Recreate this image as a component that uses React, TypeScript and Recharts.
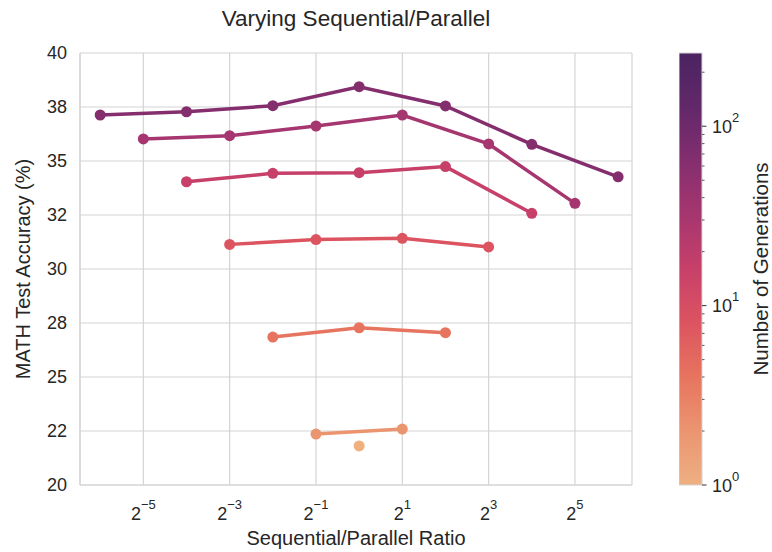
import {
  LineChart,
  Line,
  XAxis,
  YAxis,
  CartesianGrid,
  ComposedChart,
  ReferenceArea,
} from "recharts";

// MATH accuracy vs. sequential/parallel ratio, one curve per generation budget.
// Colour of each curve follows the log-scaled colorbar on the right.

const FONT = '"Liberation Sans", Arial, Helvetica, sans-serif';
const GRID = "#d4d4d4";
const TEXT = "#262626";

// ratio = sequential / parallel, acc = MATH test accuracy (%)
const ratioGen64 = [1 / 64, 1 / 16, 1 / 4, 1, 4, 16, 64];
const accGen64 = [37.13, 37.28, 37.56, 38.44, 37.55, 35.77, 34.27];

const ratioGen32 = [1 / 32, 1 / 8, 1 / 2, 2, 8, 32];
const accGen32 = [36.02, 36.17, 36.62, 37.13, 35.79, 33.04];

const ratioGen16 = [1 / 16, 1 / 4, 1, 4, 16];
const accGen16 = [34.04, 34.43, 34.46, 34.74, 32.58];

const ratioGen8 = [1 / 8, 1 / 2, 2, 8];
const accGen8 = [31.14, 31.36, 31.42, 31.02];

const ratioGen4 = [1 / 4, 1, 4];
const accGen4 = [26.85, 27.28, 27.05];

const ratioGen2 = [1 / 2, 2];
const accGen2 = [22.36, 22.59];

const ratioGen1 = [1];
const accGen1 = [21.81];

const generations = [64, 32, 16, 8, 4, 2, 1];
const seriesColors = ["#842e6e", "#a6366f", "#c7406a", "#dc5460", "#e7745f", "#eb9570", "#efb07e"];
const ratioLists = [ratioGen64, ratioGen32, ratioGen16, ratioGen8, ratioGen4, ratioGen2, ratioGen1];
const accLists = [accGen64, accGen32, accGen16, accGen8, accGen4, accGen2, accGen1];

const xTicks = [1 / 32, 1 / 8, 1 / 2, 2, 8, 32];
const xDomain = [0.0113, 80];
const yTicks = [20, 22.5, 25, 27.5, 30, 32.5, 35, 37.5, 40];
const yTickLabels = ["20", "22", "25", "28", "30", "32", "35", "38", "40"];

const cbarTicks = [1, 2, 3, 4, 5, 6, 7, 8, 9, 10, 20, 30, 40, 50, 60, 70, 80, 90, 100, 200];
// flare colormap, bottom (1) to top (256)
const cbarStops = ["#edb081", "#eb9570", "#e7745f", "#dc5460", "#c7406a", "#a6366f", "#842e6e", "#62286a", "#4a2360"];

const series = generations.map((g, i) => ({
  gen: g,
  color: seriesColors[i],
  data: ratioLists[i].map((r, j) => ({ x: r, y: accLists[i][j] })),
}));

const cbarData = [{ x: 0 }, { x: 1 }];

function XTick({ x, y, payload }: any) {
  const exp = Math.round(Math.log2(payload.value));
  return (
    <text x={x} y={y + 35} textAnchor="middle" fontFamily={FONT} fontSize={18} fill={TEXT}>
      2
      <tspan dy={-11} fontSize={13}>
        {exp < 0 ? `\u2212${-exp}` : `${exp}`}
      </tspan>
    </text>
  );
}

function CbarTick({ x, y, payload }: any) {
  const v = payload.value;
  const exp = Math.log10(v);
  const major = Math.abs(exp - Math.round(exp)) < 1e-9;
  return (
    <g>
      <line x1={x} x2={x + (major ? 4.5 : 2.5)} y1={y} y2={y} stroke="#333" strokeWidth={major ? 1 : 0.8} />
      {major && (
        <text x={x + 10} y={y + 6.5} fontFamily={FONT} fontSize={18} fill={TEXT}>
          10
          <tspan dy={-11} fontSize={13}>
            {Math.round(exp)}
          </tspan>
        </text>
      )}
    </g>
  );
}

export default function App() {
  return (
    <div
      style={{
        position: "absolute",
        left: 0,
        top: 0,
        width: 772,
        height: 552,
        background: "#fff",
        fontFamily: FONT,
      }}
    >
      <LineChart width={772} height={552} margin={{ top: 53, right: 140, bottom: 0, left: 0 }}>
        <CartesianGrid stroke={GRID} strokeWidth={1.2} />
        <XAxis
          type="number"
          dataKey="x"
          scale="log"
          domain={xDomain}
          allowDataOverflow
          ticks={xTicks}
          interval={0}
          height={67}
          tickSize={0}
          tickMargin={0}
          tickLine={false}
          axisLine={{ stroke: GRID, strokeWidth: 1.2 }}
          tick={<XTick />}
        />
        <YAxis
          type="number"
          domain={[20, 40]}
          allowDataOverflow
          ticks={yTicks}
          interval={0}
          width={80}
          tickSize={0}
          tickMargin={13}
          tickLine={false}
          axisLine={{ stroke: GRID, strokeWidth: 1.2 }}
          tick={{ fontSize: 18, fill: TEXT, fontFamily: FONT }}
          tickFormatter={(v: number, i: number) => yTickLabels[i]}
        />
        <YAxis
          yAxisId="frame"
          orientation="right"
          width={0}
          tick={false}
          tickLine={false}
          axisLine={{ stroke: GRID, strokeWidth: 1.2 }}
        />
        {series.map((s) => (
          <Line
            key={s.gen}
            data={s.data}
            dataKey="y"
            type="linear"
            stroke={s.color}
            strokeWidth={3.5}
            dot={{ r: 5.5, fill: s.color, stroke: s.color, strokeWidth: 0 }}
            activeDot={false}
            isAnimationActive={false}
          />
        ))}
        <text x={356} y={26} textAnchor="middle" fontFamily={FONT} fontSize={22.5} fill={TEXT}>
          Varying Sequential/Parallel
        </text>
        <text x={356} y={545} textAnchor="middle" fontFamily={FONT} fontSize={20} fill={TEXT}>
          Sequential/Parallel Ratio
        </text>
        <text
          x={23}
          y={269}
          transform="rotate(-90, 23, 269)"
          textAnchor="middle"
          dominantBaseline="central"
          fontFamily={FONT}
          fontSize={20}
          fill={TEXT}
        >
          MATH Test Accuracy (%)
        </text>
        <text
          x={760}
          y={269}
          transform="rotate(-90, 760, 269)"
          textAnchor="middle"
          dominantBaseline="central"
          fontFamily={FONT}
          fontSize={20.5}
          fill={TEXT}
        >
          Number of Generations
        </text>
      </LineChart>
      <div style={{ position: "absolute", left: 679, top: 0 }}>
        <ComposedChart width={93} height={552} margin={{ top: 53, right: 0, bottom: 67, left: 0 }} data={cbarData}>
          <defs>
            <linearGradient id="cbar" x1="0" y1="1" x2="0" y2="0">
              {cbarStops.map((c, i) => (
                <stop key={i} offset={i / (cbarStops.length - 1)} stopColor={c} />
              ))}
            </linearGradient>
          </defs>
          <XAxis type="number" dataKey="x" domain={[0, 1]} hide />
          <YAxis
            orientation="right"
            type="number"
            scale="log"
            domain={[1, 256]}
            allowDataOverflow
            ticks={cbarTicks}
            interval={0}
            width={70}
            tickSize={0}
            tickMargin={0}
            tickLine={false}
            axisLine={false}
            tick={<CbarTick />}
          />
          <ReferenceArea x1={0} x2={1} y1={1} y2={256} fill="url(#cbar)" fillOpacity={1} stroke={GRID} strokeWidth={1} />
        </ComposedChart>
      </div>
    </div>
  );
}
